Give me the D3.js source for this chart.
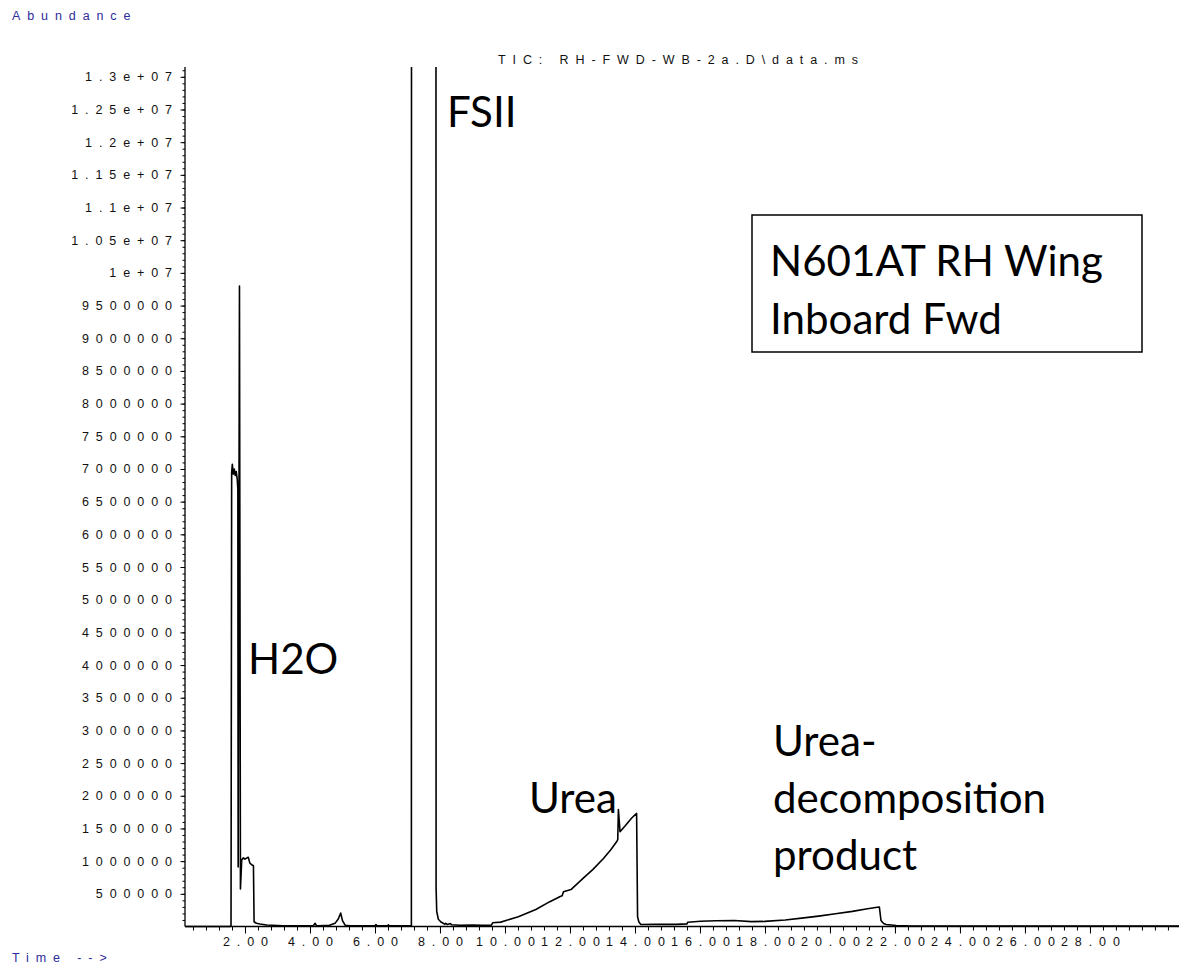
<!DOCTYPE html>
<html>
<head>
<meta charset="utf-8">
<script src="https://cdn.jsdelivr.net/npm/d3@7"></script>
<style>
body{margin:0;background:#fff;}
.small{font-family:"Liberation Sans",Arial,sans-serif;font-size:12.5px;letter-spacing:6.9px;}
.note{font-family:Lato,"Open Sans",sans-serif;fill:#000;}
</style>
</head>
<body>
<script>
// retention time (min) and TIC abundance
var timeMin = [0.16,1.55,1.57,1.59,1.61,1.64,1.67,1.70,1.73,1.76,1.78,1.79,1.83,1.86,1.90,1.95,2.00,2.06,2.10,2.15,2.22,2.26,2.28,2.35,2.46,2.67,3.17,3.6,4.1,4.16,4.2,4.26,4.6,4.77,4.87,4.945,5.0,5.08,5.23,6.0,6.03,6.06,6.4,6.41,6.44,7.10,7.12,7.13,7.87,7.88,7.90,7.95,8.03,8.10,8.15,8.18,8.22,8.32,8.36,8.6,9.0,9.3,9.58,9.62,9.87,10.41,10.95,11.38,11.70,11.76,11.80,12.03,12.41,12.70,13.03,13.25,13.44,13.47,13.49,13.54,13.70,13.90,14.05,14.08,14.12,14.18,14.6,15.26,15.60,15.62,16.02,16.5,17.06,17.58,17.99,18.62,19.13,19.65,20.17,20.69,21.11,21.45,21.52,21.57,21.65,21.73,22.04,22.5,30.74];
var abundance = [0,0,20000,6950000,7070000,6920000,7000000,6900000,6960000,6850000,6700000,910000,9800000,575000,1020000,1050000,1030000,1050000,1060000,970000,940000,930000,73000,50000,38000,23000,12000,10000,11000,49000,14000,12000,20000,48000,115000,205000,90000,20000,12000,10000,30000,10000,10000,25000,10000,12000,12000,40000000,40000000,600000,230000,110000,69000,50000,35000,50000,30000,45000,26000,20000,22000,18000,20000,57000,67000,150000,260000,380000,460000,470000,530000,565000,740000,870000,1040000,1170000,1300000,1330000,1790000,1450000,1540000,1660000,1730000,150000,69000,30000,32000,32000,40000,66000,81000,88000,92000,75000,78000,100000,128000,159000,195000,231000,268000,295000,298000,92000,45000,31000,15000,8000,5000];

var xTickValues = [2,4,6,8,10,12,14,16,18,20,22,24,26,28];
var xTickLabels = ['2.00','4.00','6.00','8.00','10.00','12.00','14.00','16.00','18.00','20.00','22.00','24.00','26.00','28.00'];
var yTickValues = [500000,1000000,1500000,2000000,2500000,3000000,3500000,4000000,4500000,5000000,5500000,6000000,6500000,7000000,7500000,8000000,8500000,9000000,9500000,10000000,10500000,11000000,11500000,12000000,12500000,13000000];
var yTickLabels = ['500000','1000000','1500000','2000000','2500000','3000000','3500000','4000000','4500000','5000000','5500000','6000000','6500000','7000000','7500000','8000000','8500000','9000000','9500000','1e+07','1.05e+07','1.1e+07','1.15e+07','1.2e+07','1.25e+07','1.3e+07'];

var titleText = 'TIC: RH-FWD-WB-2a.D\\data.ms';
var boxLines = ['N601AT RH Wing','Inboard Fwd'];
var decompLines = ['Urea-','decomposition','product'];

var width = 1179, height = 968;
var plotLeft = 185, plotRight = 1179, plotTop = 67, plotBottom = 926.5;
var ls = 6.9;

var svg = d3.select('body').append('svg')
	.attr('width',width)
	.attr('height',height);

var x = d3.scaleLinear().domain([0.154,30.74]).range([plotLeft,plotRight]);
var y = d3.scaleLinear().domain([0,13150000]).range([plotBottom,plotTop]);

svg.append('defs').append('clipPath').attr('id','plot')
	.append('rect').attr('x',plotLeft).attr('y',plotTop).attr('width',plotRight-plotLeft).attr('height',plotBottom-plotTop+4);

// trace
var pts = timeMin.map((t,i)=>[t,abundance[i]]);
svg.append('path')
	.datum(pts)
	.attr('clip-path','url(#plot)')
	.attr('fill','none')
	.attr('stroke','#000')
	.attr('stroke-width',1.6)
	.attr('stroke-linejoin','round')
	.attr('d',d3.line().x(d=>x(d[0])).y(d=>y(d[1])));

// y axis: minor ticks every 100000, labelled every 500000
var yMinor = d3.range(100000,13100001,100000);
svg.append('g')
	.attr('transform','translate('+plotLeft+',0)')
	.call(d3.axisLeft(y).tickValues(yMinor).tickSize(2.5).tickSizeOuter(0).tickFormat(''))
	.call(g=>g.select('.domain').remove());
var yAx = svg.append('g')
	.attr('transform','translate('+plotLeft+',0)')
	.call(d3.axisLeft(y).tickValues(yTickValues).tickSize(4.5).tickSizeOuter(0).tickFormat((d,i)=>yTickLabels[i]));
yAx.select('.domain').remove();
yAx.attr('font-family',null).attr('font-size',null);
yAx.selectAll('text').attr('class','small').attr('fill','#111').attr('x',172-plotLeft+ls);
svg.append('line').attr('x1',plotLeft).attr('x2',plotLeft).attr('y1',plotTop).attr('y2',plotBottom)
	.attr('stroke','#000').attr('stroke-width',1.3);

// x axis: minor ticks every 0.4 min, labelled every 2 min
var xMinor = d3.range(0.4,30.7,0.4);
svg.append('g')
	.attr('transform','translate(0,'+plotBottom+')')
	.call(d3.axisBottom(x).tickValues(xMinor).tickSize(4).tickSizeOuter(0).tickFormat(''))
	.call(g=>g.select('.domain').remove());
var xAx = svg.append('g')
	.attr('transform','translate(0,'+plotBottom+')')
	.call(d3.axisBottom(x).tickValues(xTickValues).tickSize(7).tickSizeOuter(0).tickPadding(4).tickFormat((d,i)=>xTickLabels[i]));
xAx.select('.domain').remove();
xAx.attr('font-family',null).attr('font-size',null);
xAx.selectAll('text').attr('class','small').attr('fill','#111').attr('dx',ls/2);
svg.append('line').attr('x1',plotLeft).attr('x2',plotRight).attr('y1',plotBottom).attr('y2',plotBottom)
	.attr('stroke','#000').attr('stroke-width',1.3);

// header texts
svg.append('text').attr('class','small').attr('x',12).attr('y',20).attr('fill','#2b2b9c').text('Abundance');
svg.append('text').attr('class','small').attr('x',12).attr('y',962).attr('fill','#2b2b9c').text('Time -->');
svg.append('text').attr('class','small').attr('x',498).attr('y',64).attr('fill','#111').text(titleText);

// annotations
var note = svg.append('g').attr('class','note');
var box = note.append('text').attr('x',770).attr('y',276).attr('font-size',48).text(boxLines[0]);
var fs = 48*333/box.node().getComputedTextLength();
box.attr('font-size',fs);
note.append('text').attr('x',770).attr('y',334).attr('font-size',fs).text(boxLines[1]);
note.append('rect').attr('x',752).attr('y',215).attr('width',390).attr('height',137)
	.attr('fill','none').attr('stroke','#000').attr('stroke-width',1.5);
note.append('text').attr('x',447).attr('y',127).attr('font-size',fs).text('FSII');
note.append('text').attr('x',248).attr('y',674).attr('font-size',fs).text('H2O');
note.append('text').attr('x',529).attr('y',813).attr('font-size',fs).text('Urea');
decompLines.forEach(function(t,i){
	note.append('text').attr('x',773).attr('y',756+i*57).attr('font-size',fs).text(t);
});
</script>
</body>
</html>
